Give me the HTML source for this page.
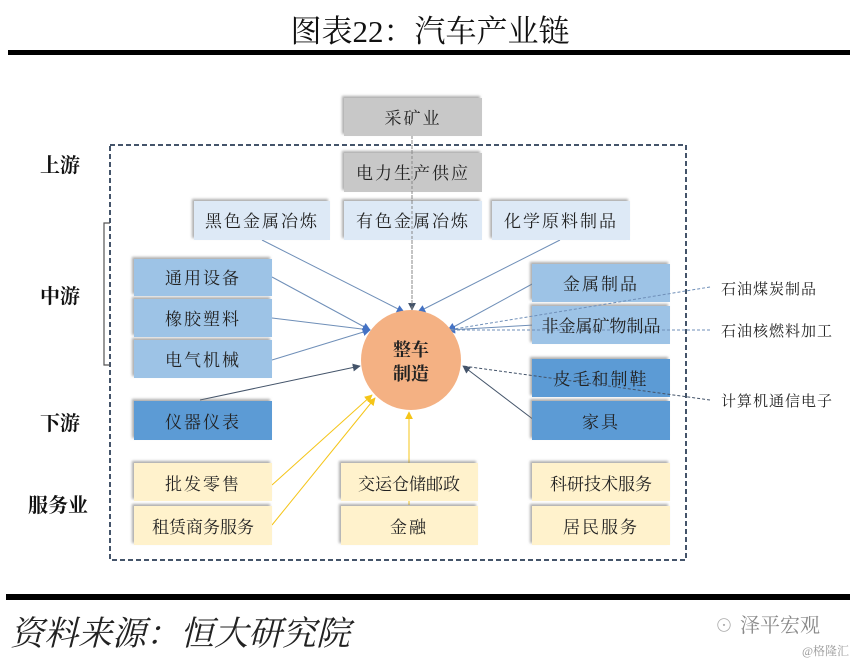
<!DOCTYPE html>
<html><head><meta charset="utf-8"><style>
body{margin:0;background:#fff;}
svg{display:block;}
text{font-family:"Liberation Serif","Noto Serif CJK SC","Noto Sans CJK SC",serif;}
</style></head><body>
<svg width="862" height="665" viewBox="0 0 862 665" xmlns="http://www.w3.org/2000/svg">
<defs>
<filter id="sh" x="-10%" y="-10%" width="130%" height="140%"><feDropShadow dx="-2" dy="-2" stdDeviation="1.2" flood-color="#777" flood-opacity="0.6"/></filter>
<marker id="ab" viewBox="0 0 10 10" refX="9" refY="5" markerWidth="8" markerHeight="8" orient="auto"><path d="M0,0 L10,5 L0,10 z" fill="#4472c4"/></marker>
<marker id="ad" viewBox="0 0 10 10" refX="9" refY="5" markerWidth="8" markerHeight="8" orient="auto"><path d="M0,0 L10,5 L0,10 z" fill="#44546a"/></marker>
<marker id="ay" viewBox="0 0 10 10" refX="9" refY="5" markerWidth="8" markerHeight="8" orient="auto"><path d="M0,0 L10,5 L0,10 z" fill="#f5c518"/></marker>
</defs>
<text x="430" y="42" font-size="31" text-anchor="middle" fill="#111">图表22：汽车产业链</text>
<rect x="8" y="50" width="842" height="5" fill="#000"/>

<rect x="110" y="145" width="576" height="415" fill="none" stroke="#44546a" stroke-width="2" stroke-dasharray="5,3"/>
<path d="M110,223 H104 V365 H110" fill="none" stroke="#555" stroke-width="1.2"/>

<g font-size="20" font-weight="bold" fill="#111" text-anchor="middle">
<text x="60" y="172">上游</text><text x="60" y="303">中游</text><text x="60" y="430">下游</text><text x="58" y="512">服务业</text>
</g>

<g fill="none" stroke-width="1">
<line x1="412" y1="140" x2="412" y2="310" stroke="#888" stroke-dasharray="3,2" marker-end="url(#ad)"/>
<line x1="262" y1="240" x2="404" y2="312" stroke="#6f8fb8" marker-end="url(#ab)"/>
<line x1="560" y1="240" x2="418" y2="312" stroke="#6f8fb8" marker-end="url(#ab)"/>
<line x1="272" y1="277" x2="370" y2="330" stroke="#6f8fb8" marker-end="url(#ab)"/>
<line x1="272" y1="318" x2="370" y2="330" stroke="#6f8fb8" marker-end="url(#ab)"/>
<line x1="272" y1="360" x2="370" y2="330" stroke="#6f8fb8" marker-end="url(#ab)"/>
<line x1="200" y1="400" x2="360" y2="366" stroke="#44546a" marker-end="url(#ad)"/>
<line x1="534" y1="283" x2="448" y2="330" stroke="#6f8fb8" marker-end="url(#ab)"/>
<line x1="534" y1="325" x2="448" y2="330" stroke="#6f8fb8" marker-end="url(#ab)"/>
<line x1="534" y1="420" x2="463" y2="366" stroke="#44546a" marker-end="url(#ad)"/>
<line x1="272" y1="485" x2="372" y2="395" stroke="#f5c518" marker-end="url(#ay)"/>
<line x1="272" y1="525" x2="375" y2="398" stroke="#f5c518" marker-end="url(#ay)"/>
<line x1="409" y1="505" x2="409" y2="412" stroke="#f5c518" marker-end="url(#ay)"/>
</g>

<g filter="url(#sh)">
<rect x="344" y="98" width="138" height="38" fill="#c8c8c8"/>
<rect x="344" y="153" width="138" height="39" fill="#c8c8c8"/>
<rect x="194" y="201" width="136" height="39" fill="#dde9f6"/>
<rect x="344" y="201" width="138" height="39" fill="#dde9f6"/>
<rect x="492" y="201" width="138" height="39" fill="#dde9f6"/>
<rect x="134" y="259" width="138" height="37" fill="#9dc3e6"/>
<rect x="134" y="299" width="138" height="38" fill="#9dc3e6"/>
<rect x="134" y="340" width="138" height="38" fill="#9dc3e6"/>
<rect x="134" y="401" width="138" height="39" fill="#5b9bd5"/>
<rect x="532" y="264" width="138" height="38" fill="#9dc3e6"/>
<rect x="532" y="306" width="138" height="38" fill="#9dc3e6"/>
<rect x="532" y="359" width="138" height="38" fill="#5b9bd5"/>
<rect x="532" y="401" width="138" height="39" fill="#5b9bd5"/>
<rect x="134" y="463" width="138" height="38" fill="#fff2cc"/>
<rect x="134" y="506" width="138" height="39" fill="#fff2cc"/>
<rect x="341" y="463" width="137" height="38" fill="#fff2cc"/>
<rect x="341" y="506" width="137" height="39" fill="#fff2cc"/>
<rect x="532" y="463" width="138" height="38" fill="#fff2cc"/>
<rect x="532" y="506" width="138" height="39" fill="#fff2cc"/>
</g>
<g fill="none" stroke-width="1" stroke-dasharray="3,2">
<line x1="412" y1="136" x2="412" y2="310" stroke="#888"/>
<line x1="710" y1="287" x2="448" y2="330" stroke="#6f8fb8"/>
<line x1="710" y1="330" x2="448" y2="330" stroke="#6f8fb8"/>
<line x1="710" y1="400" x2="463" y2="366" stroke="#44546a"/>
</g>

<circle cx="411" cy="360" r="50" fill="#f4b183"/>
<text x="411" y="356" font-size="18" font-weight="bold" text-anchor="middle" fill="#222">整车</text>
<text x="411" y="380" font-size="18" font-weight="bold" text-anchor="middle" fill="#222">制造</text>

<g font-size="17" text-anchor="middle" fill="#222" letter-spacing="2">
<text x="413" y="124">采矿业</text>
<text x="413" y="179">电力生产供应</text>
<text x="262" y="227">黑色金属冶炼</text>
<text x="413" y="227">有色金属冶炼</text>
<text x="561" y="227">化学原料制品</text>
<text x="203" y="284">通用设备</text>
<text x="203" y="325">橡胶塑料</text>
<text x="203" y="366">电气机械</text>
<text x="203" y="428">仪器仪表</text>
<text x="601" y="290">金属制品</text>
<text x="601" y="332" letter-spacing="0">非金属矿物制品</text>
<text x="601" y="385">皮毛和制鞋</text>
<text x="601" y="428">家具</text>
<text x="203" y="490">批发零售</text>
<text x="203" y="533" letter-spacing="0">租赁商务服务</text>
<text x="409" y="490" letter-spacing="0">交运仓储邮政</text>
<text x="409" y="533">金融</text>
<text x="601" y="490" letter-spacing="0">科研技术服务</text>
<text x="601" y="533">居民服务</text>
</g>
<g font-size="15" fill="#222" letter-spacing="1">
<text x="721" y="294">石油煤炭制品</text>
<text x="721" y="336">石油核燃料加工</text>
<text x="721" y="406">计算机通信电子</text>
</g>

<rect x="6" y="594" width="844" height="6" fill="#000"/>
<text x="10" y="645" font-size="34" font-style="italic" fill="#222">资料来源：恒大研究院</text>
<text x="740" y="632" font-size="20" fill="#888">泽平宏观</text>
<text x="715" y="632" font-size="18" fill="#aaa">⊙</text>
<text x="802" y="655" font-size="12" fill="#999">@格隆汇</text>
</svg>
</body></html>
